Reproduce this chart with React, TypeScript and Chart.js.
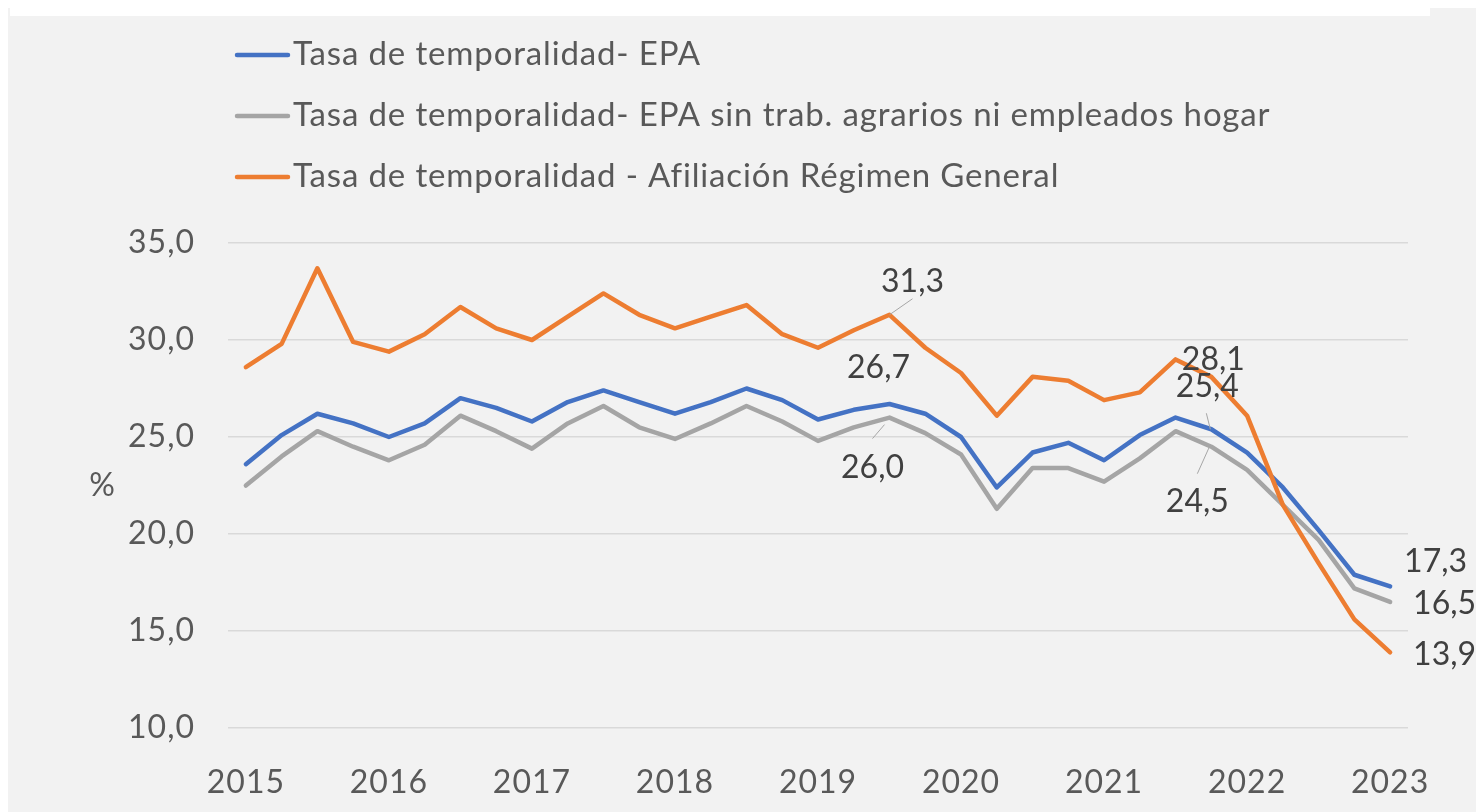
import React, { useEffect, useRef } from 'react';
import { Chart, registerables } from 'chart.js';

Chart.register(...registerables);

const categories = [
  '2015', '2015-T2', '2015-T3', '2015-T4',
  '2016', '2016-T2', '2016-T3', '2016-T4',
  '2017', '2017-T2', '2017-T3', '2017-T4',
  '2018', '2018-T2', '2018-T3', '2018-T4',
  '2019', '2019-T2', '2019-T3', '2019-T4',
  '2020', '2020-T2', '2020-T3', '2020-T4',
  '2021', '2021-T2', '2021-T3', '2021-T4',
  '2022', '2022-T2', '2022-T3', '2022-T4',
  '2023',
];

const seriesLabels = [
  'Tasa de temporalidad- EPA',
  'Tasa de temporalidad- EPA sin trab. agrarios ni empleados hogar',
  'Tasa de temporalidad - Afiliación Régimen General',
];

const tasaEPA = [
  23.6, 25.1, 26.2, 25.7, 25.0, 25.7, 27.0, 26.5, 25.8, 26.8, 27.4, 26.8,
  26.2, 26.8, 27.5, 26.9, 25.9, 26.4, 26.7, 26.2, 25.0, 22.4, 24.2, 24.7,
  23.8, 25.1, 26.0, 25.4, 24.2, 22.4, 20.2, 17.9, 17.3,
];

const tasaEPASinAgrarios = [
  22.5, 24.0, 25.3, 24.5, 23.8, 24.6, 26.1, 25.3, 24.4, 25.7, 26.6, 25.5,
  24.9, 25.7, 26.6, 25.8, 24.8, 25.5, 26.0, 25.2, 24.1, 21.3, 23.4, 23.4,
  22.7, 23.9, 25.3, 24.5, 23.3, 21.5, 19.7, 17.2, 16.5,
];

const tasaAfiliacion = [
  28.6, 29.8, 33.7, 29.9, 29.4, 30.3, 31.7, 30.6, 30.0, 31.2, 32.4, 31.3,
  30.6, 31.2, 31.8, 30.3, 29.6, 30.5, 31.3, 29.6, 28.3, 26.1, 28.1, 27.9,
  26.9, 27.3, 29.0, 28.1, 26.1, 21.5, 18.5, 15.6, 13.9,
];

const yMin = 10;
const yMax = 35;
const yStep = 5;
const yAxisTitle = '%';

const FONT = 'Lato, "Open Sans", sans-serif';
const TEXT = '#595959';
const LABEL = '#404040';
const COLORS = ['#4472C4', '#A5A5A5', '#ED7D31'];

const fmt = (v: number) => v.toFixed(1).replace('.', ',');

export default function App() {
  const ref = useRef<HTMLCanvasElement | null>(null);

  useEffect(() => {
    if (!ref.current) return;

    // datasetIndex, dataIndex, dx, dy (baseline), align, leader
    const annotations: Array<{
      ds: number; i: number; dx: number; dy: number; align: CanvasTextAlign;
      leader?: [number, number, number, number];
    }> = [
      { ds: 2, i: 18, dx: 23, dy: -23, align: 'center', leader: [0, 0, 23, -16] },
      { ds: 0, i: 18, dx: -11, dy: -26, align: 'center' },
      { ds: 1, i: 18, dx: -17, dy: 60, align: 'center', leader: [-5, 7, -17, 21] },
      { ds: 2, i: 27, dx: 2, dy: -7, align: 'center' },
      { ds: 0, i: 27, dx: -4, dy: -32, align: 'center', leader: [-5, -16, -1, 0] },
      { ds: 1, i: 27, dx: -14, dy: 65, align: 'center', leader: [-14, 27, -1, -2] },
      { ds: 0, i: 32, dx: 14, dy: -14, align: 'left' },
      { ds: 1, i: 32, dx: 23, dy: 12, align: 'left' },
      { ds: 2, i: 32, dx: 23, dy: 13, align: 'left' },
    ];

    const overlay = {
      id: 'overlay',
      beforeDraw(chart: any) {
        (chart.ctx as any).letterSpacing = '1px';
      },
      afterDatasetsDraw(chart: any) {
        const ctx = chart.ctx as CanvasRenderingContext2D & { letterSpacing: string };
        const area = chart.chartArea;
        ctx.save();
        // legend
        chart.data.datasets.forEach((ds: any, k: number) => {
          const y = 47 + k * 61;
          ctx.strokeStyle = ds.borderColor;
          ctx.lineWidth = 4.5;
          ctx.lineCap = 'round';
          ctx.beginPath();
          ctx.moveTo(229, y);
          ctx.lineTo(280, y);
          ctx.stroke();
          ctx.fillStyle = TEXT;
          ctx.font = `33px ${FONT}`;
          ctx.letterSpacing = '0.85px';
          ctx.textAlign = 'left';
          ctx.textBaseline = 'alphabetic';
          ctx.fillText(ds.label, 285, y + 10);
        });
        // axis title
        ctx.letterSpacing = '0px';
        ctx.fillStyle = TEXT;
        ctx.font = `32px ${FONT}`;
        ctx.textAlign = 'center';
        ctx.textBaseline = 'middle';
        ctx.fillText(yAxisTitle, area.left - 126, (area.top + area.bottom) / 2);
        // data labels
        annotations.forEach((a) => {
          const pt = chart.getDatasetMeta(a.ds).data[a.i];
          const v = chart.data.datasets[a.ds].data[a.i];
          if (a.leader) {
            ctx.strokeStyle = '#A6A6A6';
            ctx.lineWidth = 1;
            ctx.lineCap = 'butt';
            ctx.beginPath();
            ctx.moveTo(pt.x + a.leader[0], pt.y + a.leader[1]);
            ctx.lineTo(pt.x + a.leader[2], pt.y + a.leader[3]);
            ctx.stroke();
          }
          ctx.fillStyle = LABEL;
          ctx.font = `32px ${FONT}`;
          ctx.textAlign = a.align;
          ctx.textBaseline = 'alphabetic';
          ctx.fillText(fmt(v), pt.x + a.dx, pt.y + a.dy);
        });
        ctx.restore();
      },
    };

    const series = [tasaEPA, tasaEPASinAgrarios, tasaAfiliacion];
    const drawOrder = [2, 1, 0];

    const chart = new Chart(ref.current, {
      type: 'line',
      data: {
        labels: categories,
        datasets: series.map((d, k) => ({
          label: seriesLabels[k],
          data: d,
          borderColor: COLORS[k],
          backgroundColor: COLORS[k],
          borderWidth: 4.5,
          borderCapStyle: 'round' as const,
          borderJoinStyle: 'round' as const,
          pointRadius: 0,
          tension: 0,
          order: drawOrder[k],
        })),
      },
      options: {
        responsive: false,
        animation: false,
        layout: { padding: { left: 0, right: 68, top: 235, bottom: 0 } },
        plugins: {
          legend: { display: false },
          tooltip: { enabled: false },
        },
        scales: {
          x: {
            type: 'category',
            offset: true,
            grid: { display: false },
            border: { display: false },
            ticks: {
              autoSkip: false,
              maxRotation: 0,
              minRotation: 0,
              padding: 27,
              color: TEXT,
              font: { family: FONT, size: 32 },
              callback: (_v: any, i: number) => (i % 4 === 0 ? categories[i] : ''),
            },
            afterFit: (s: any) => { s.height = 84; },
          },
          y: {
            min: yMin,
            max: yMax,
            grid: { color: '#D9D9D9', lineWidth: 1.5, drawTicks: false },
            border: { display: false },
            ticks: {
              stepSize: yStep,
              padding: 33,
              color: TEXT,
              font: { family: FONT, size: 32 },
              callback: (v: any) => fmt(Number(v)),
            },
            afterFit: (s: any) => { s.width = 220; },
          },
        },
      },
      plugins: [overlay],
    });

    return () => chart.destroy();
  }, []);

  return (
    <div style={{ position: 'fixed', left: 8, top: 8, width: 1468, height: 804, background: '#F2F2F2' }}>
      <div style={{ position: 'absolute', left: 2, top: 0, width: 1420, height: 8, background: '#FFFFFF' }} />
      <canvas
        ref={ref}
        width={1468}
        height={804}
        style={{ position: 'absolute', left: 0, top: 0, width: 1468, height: 804 }}
      />
    </div>
  );
}
